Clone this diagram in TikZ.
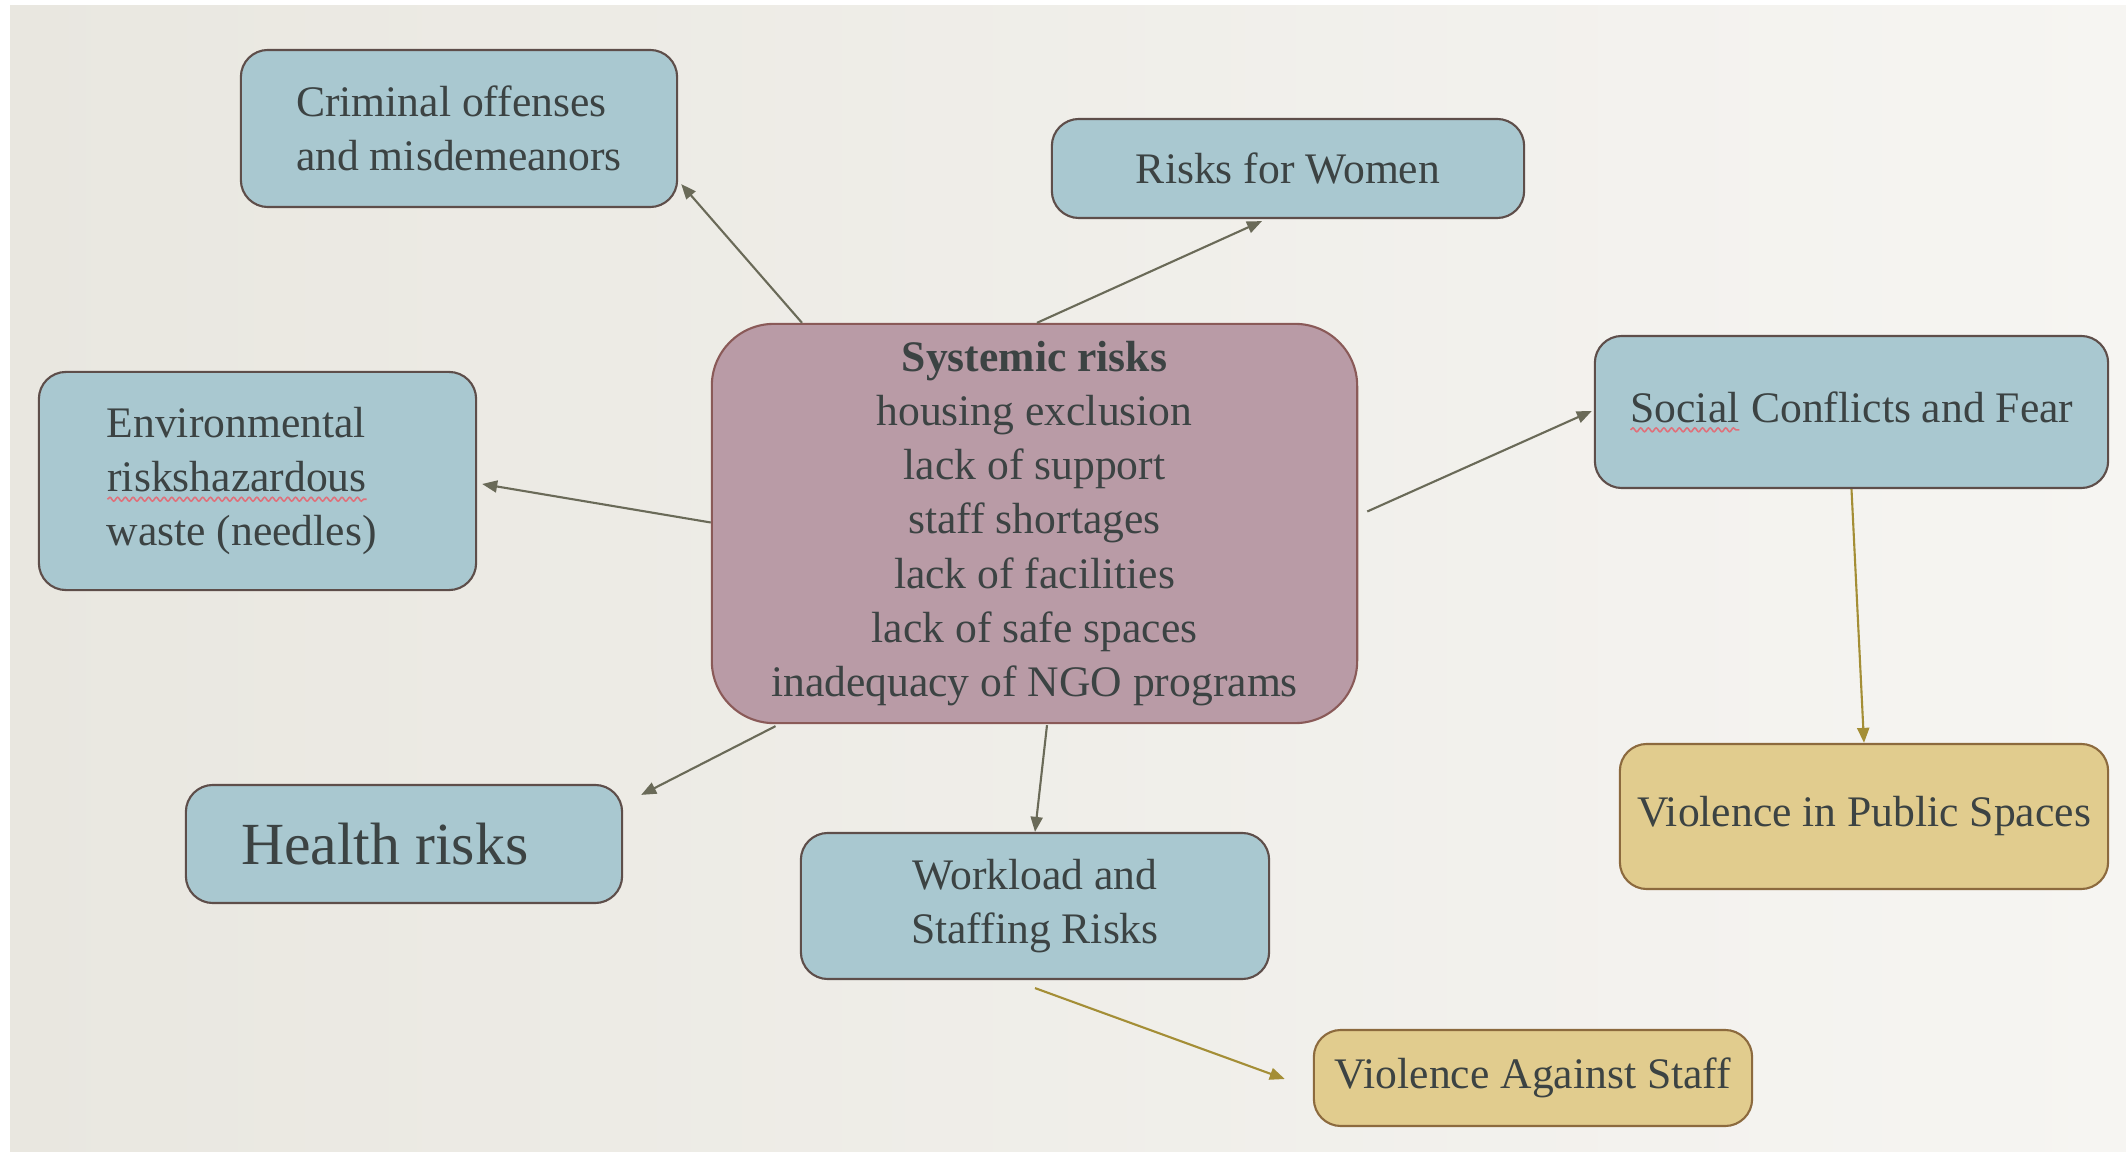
\documentclass[tikz,border=0pt]{standalone}
\usepackage{fontspec}
\setmainfont{Liberation Serif}
\usetikzlibrary{arrows.meta,calc,decorations.pathmorphing}
\definecolor{paperA}{HTML}{E9E7E0}
\definecolor{paperB}{HTML}{F6F5F2}
\definecolor{bluefill}{HTML}{A9C8D0}
\definecolor{blueedge}{HTML}{5E4E4A}
\definecolor{mauvefill}{HTML}{B99BA6}
\definecolor{mauveedge}{HTML}{8A5A58}
\definecolor{goldfill}{HTML}{E1CC8E}
\definecolor{goldedge}{HTML}{8C6A3E}
\definecolor{inkcol}{HTML}{3C4343}
\definecolor{linkcol}{HTML}{6A6A58}
\definecolor{goldlink}{HTML}{A48E36}
\definecolor{wavecol}{HTML}{E0707A}
\newcommand\redwave[1]{\tikz[baseline=(w.base),x=1cm,y=1cm]{%
  \node[shape=rectangle,draw=none,fill=none,inner sep=0pt,outer sep=0pt,
    minimum width=0pt,minimum height=0pt,sharp corners,align=center,text=inkcol](w){#1};
  \draw[draw=wavecol,fill=none,sharp corners,-,line width=0.45pt,decorate,
    decoration={snake,amplitude=0.55pt,segment length=2.2pt}]
  ([yshift=-2.2pt]w.base west) -- ([yshift=-2.2pt]w.base east);}}
\begin{document}
\begin{tikzpicture}[x=0.01cm,y=-0.01cm,
  box/.style={draw=blueedge, fill=bluefill, rounded corners=0.27cm, line width=0.6pt,
    text=inkcol, font=\fontsize{12.4}{15.4}\selectfont, inner sep=0pt},
  sysbox/.style={box, draw=mauveedge, fill=mauvefill, rounded corners=0.62cm},
  goldbox/.style={box, draw=goldedge, fill=goldfill},
  link/.style={draw=linkcol, line width=0.6pt, -{Triangle[length=0.15cm,width=0.12cm]}},
  goldarrow/.style={link, draw=goldlink}]
\useasboundingbox (0,0) rectangle (2126,1152);
\fill[white] (0,0) rectangle (2126,1152);
\shade[left color=paperA, right color=paperB] (10,6) rectangle (2126,1152);

\node[box, minimum width=4.36cm, minimum height=1.57cm, align=left] (crim) at (459,128.5)
  {Criminal offenses\\and misdemeanors};
\node[box, minimum width=4.72cm, minimum height=0.99cm] (women) at (1288,168.5)
  {Risks for Women};
\node[sysbox, minimum width=6.45cm, minimum height=3.99cm, align=center] (sys) at (1034.5,523.5)
  {{\bfseries Systemic risks}\\housing exclusion\\lack of support\\staff shortages\\lack of facilities\\lack of safe spaces\\inadequacy of NGO programs};
\node[box, minimum width=4.37cm, minimum height=2.18cm, align=left] (env) at (257.5,481)
  {Environmental\\\redwave{riskshazardous}\\waste (needles)\hspace*{9pt}};
\node[box, minimum width=5.13cm, minimum height=1.52cm] (social) at (1851.5,412)
  {\redwave{Social} Conflicts and Fear};
\node[box, minimum width=4.36cm, minimum height=1.18cm, font=\fontsize{17}{20}\selectfont] (health) at (404,844)
  {Health risks\hspace*{11pt}};
\node[box, minimum width=4.68cm, minimum height=1.46cm, align=center] (work) at (1035,906)
  {Workload and\\Staffing Risks};
\node[goldbox, minimum width=4.88cm, minimum height=1.45cm] (vpub) at (1864,816.5)
  {Violence in Public Spaces};
\node[goldbox, minimum width=4.38cm, minimum height=0.96cm] (vstaff) at (1533,1078)
  {Violence Against Staff};

\draw[link] ($(sys.north)+(-232.5,0)$) -- ($(crim.south east)+(3,-24)$);
\draw[link] ($(sys.north)+(2.5,0)$) -- ($(women.south)+(-26,2)$);
\draw[link] ($(sys.west)+(0,-1)$) -- ($(env.east)+(5,3)$);
\draw[link] ($(sys.east)+(9,-12)$) -- ($(social.west)+(-2,-1)$);
\draw[link] ($(sys.south)+(-259,2)$) -- ($(health.north east)+(18,11)$);
\draw[link] ($(sys.south)+(12.5,1)$) -- (work.north);
\draw[goldarrow] (social.south) -- (vpub.north);
\draw[goldarrow] ($(work.south)+(0,8)$) -- ($(vstaff.west)+(-28,1)$);
\end{tikzpicture}
\end{document}
